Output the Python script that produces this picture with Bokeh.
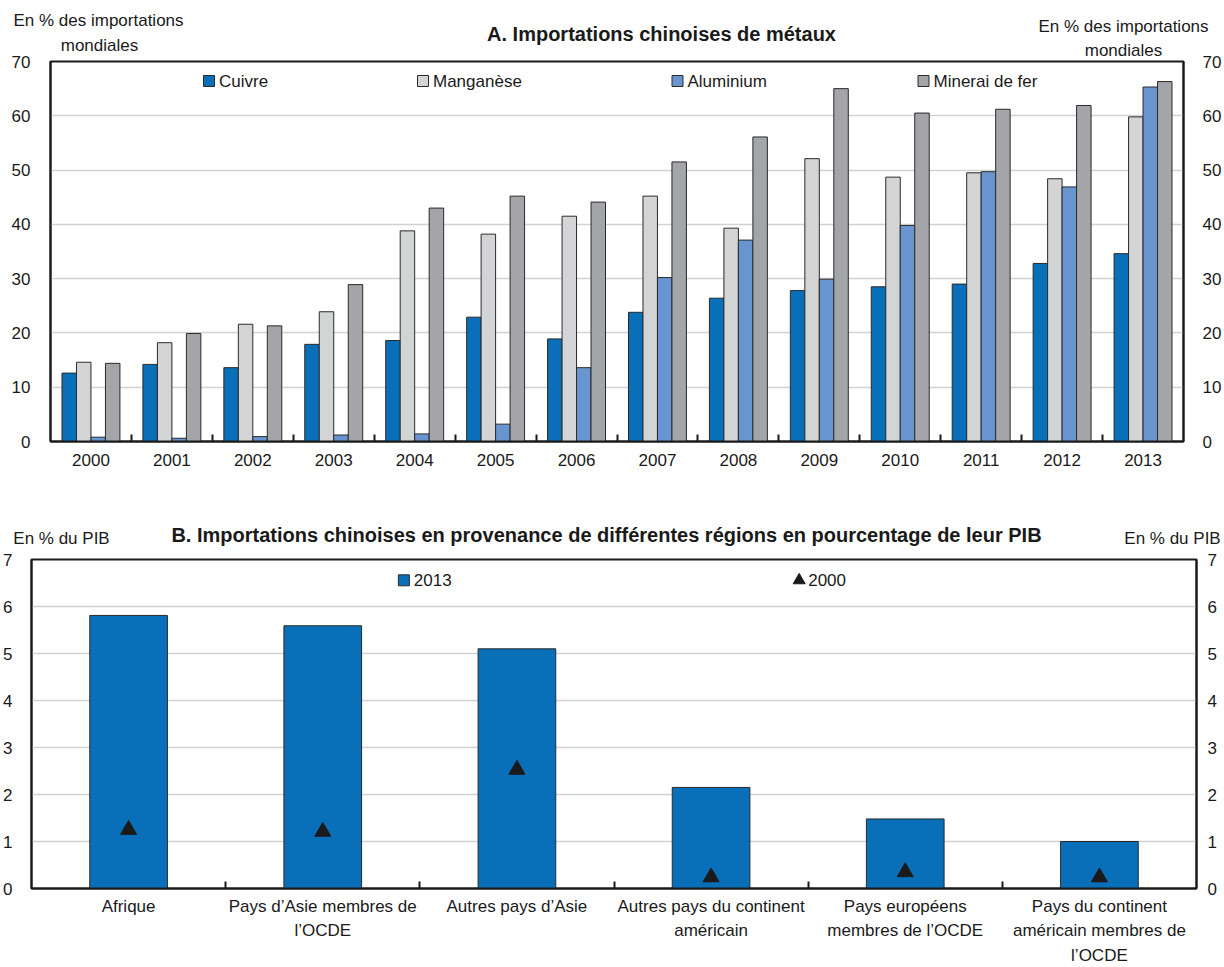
from bokeh.plotting import figure
from bokeh.models import Range1d, LinearAxis, FixedTicker, ColumnDataSource
from bokeh.core.properties import value
from bokeh.embed import file_html
from bokeh.resources import INLINE

# ---------------------------------------------------------------- data
years = [2000, 2001, 2002, 2003, 2004, 2005, 2006,
         2007, 2008, 2009, 2010, 2011, 2012, 2013]
cuivre = [12.6, 14.2, 13.6, 17.9, 18.6, 22.9, 18.9,
          23.8, 26.4, 27.8, 28.5, 29.0, 32.8, 34.6]
manganese = [14.6, 18.2, 21.6, 23.9, 38.8, 38.2, 41.5,
             45.2, 39.3, 52.1, 48.7, 49.5, 48.4, 59.8]
aluminium = [0.8, 0.6, 0.9, 1.2, 1.4, 3.2, 13.6,
             30.2, 37.1, 29.9, 39.8, 49.7, 46.9, 65.3]
minerai_fer = [14.4, 19.9, 21.3, 28.9, 43.0, 45.2, 44.1,
               51.5, 56.1, 65.0, 60.5, 61.2, 61.9, 66.3]
metal_names = ["Cuivre", "Manganèse", "Aluminium", "Minerai de fer"]

regions = [
    "Afrique",
    "Pays d’Asie membres de\nl’OCDE",
    "Autres pays d’Asie",
    "Autres pays du continent\naméricain",
    "Pays européens\nmembres de l’OCDE",
    "Pays du continent\naméricain membres de\nl’OCDE",
]
pib_2013 = [5.81, 5.59, 5.10, 2.15, 1.48, 1.00]
pib_2000 = [1.25, 1.21, 2.53, 0.24, 0.35, 0.24]
series_b = ["2013", "2000"]

title_a = "A. Importations chinoises de métaux"
title_b = ("B. Importations chinoises en provenance de différentes régions "
           "en pourcentage de leur PIB")
unit_a = ["En % des importations", "mondiales"]
unit_b = "En % du PIB"

# ---------------------------------------------------------------- style
FONT = "Liberation Sans"
INK = "#1a1a1a"
GRID = "#d2d2d2"
EDGE = "#2a2a2a"
metal_colors = ["#0a6fb9", "#d3d4d6", "#6895cf", "#a3a5a9"]
BLUE = "#0a6fb9"
FS = "17px"
FS_TITLE = "20px"
PAGE_W = 1224


def style_axis(axis, standoff):
    axis.axis_line_color = INK
    axis.axis_line_width = 2
    axis.major_tick_in = 0
    axis.major_tick_out = 0
    axis.minor_tick_in = 0
    axis.minor_tick_out = 0
    axis.major_label_text_font = FONT
    axis.major_label_text_font_size = FS
    axis.major_label_text_color = INK
    axis.major_label_standoff = standoff


def make_header(height, items):
    """A text band: x and y are pixels from the band's top-left corner."""
    h = figure(width=PAGE_W, height=height,
               x_range=Range1d(0, PAGE_W), y_range=Range1d(height, 0),
               x_axis_type=None, y_axis_type=None,
               output_backend="svg", toolbar_location=None,
               min_border=0, min_border_left=0, min_border_right=0,
               min_border_top=0, min_border_bottom=0)
    h.outline_line_color = None
    h.xgrid.visible = False
    h.ygrid.visible = False
    src = ColumnDataSource(dict(
        x=[it[0] for it in items], y=[it[1] for it in items],
        text=[it[2] for it in items],
        size=[FS_TITLE if it[3] else FS for it in items],
        style=["bold" if it[3] else "normal" for it in items]))
    h.text(x="x", y="y", text="text", source=src,
           text_align="center", text_baseline="middle",
           text_font=value(FONT), text_font_size="size", text_color=INK,
           text_font_style="style")
    return h


def make_frame(fig_top, fig_h, overlap, left, right, top, bottom, nx, ymax):
    """Plot whose frame spans page pixels left..right, top..bottom.

    The plot is pulled up by `overlap` pixels over the band above it, with a
    transparent border so that the band's captions stay visible.
    """
    p = figure(width=PAGE_W, height=fig_h,
               x_range=Range1d(0, nx), y_range=Range1d(0, ymax),
               output_backend="svg", toolbar_location=None,
               min_border_left=left, min_border_right=PAGE_W - right,
               min_border_top=top - fig_top,
               min_border_bottom=fig_top + fig_h - bottom,
               styles={"margin-top": f"-{overlap}px"})
    p.outline_line_color = INK
    p.outline_line_width = 2
    p.xgrid.visible = False
    p.ygrid.grid_line_color = GRID
    p.ygrid.grid_line_width = 1.5
    p.background_fill_color = "white"
    p.border_fill_color = None
    fx = lambda px: (px - left) / (right - left) * nx
    fy = lambda py: (bottom - py) / (bottom - top) * ymax
    return p, fx, fy


# ================================================================ panel A
HA = 60
OVA = 10
AL, AR, AT, AB = 50, 1183, 61, 441
A_MAX = 70
na = len(years)

ha = make_header(HA, [
    (661, 33, title_a, True),
    (98, 20, unit_a[0], False),
    (99, 45, unit_a[1], False),
    (1123, 25.5, unit_a[0], False),
    (1123, 50, unit_a[1], False),
])

pa, fxa, fya = make_frame(HA - OVA, 490 - (HA - OVA), OVA,
                          AL, AR, AT, AB, na, A_MAX)

yt_a = FixedTicker(ticks=list(range(0, A_MAX + 1, 10)))
pa.ygrid.ticker = yt_a
pa.yaxis.ticker = yt_a
style_axis(pa.yaxis[0], 20)
ra = LinearAxis(ticker=yt_a)
style_axis(ra, 19)
pa.add_layout(ra, "right")

xa = pa.xaxis[0]
xa.ticker = FixedTicker(ticks=[i + 0.5 for i in range(na)],
                        minor_ticks=list(range(1, na)))
xa.major_label_overrides = {i + 0.5: str(y) for i, y in enumerate(years)}
style_axis(xa, 12)
xa.minor_tick_in = 7
xa.minor_tick_line_color = INK
xa.minor_tick_line_width = 2

bar_w = 0.179
offsets = [-1.5 * bar_w, -0.5 * bar_w, 0.5 * bar_w, 1.5 * bar_w]
for vals, col, off in zip([cuivre, manganese, aluminium, minerai_fer],
                          metal_colors, offsets):
    src = ColumnDataSource(dict(x=[i + 0.5 + off for i in range(na)], top=vals))
    pa.vbar(x="x", top="top", bottom=0, width=bar_w, source=src,
            fill_color=col, line_color=EDGE, line_width=1)

# legend row
leg_px = [208.5, 422.5, 677, 923]
leg_y = fya(80.5)
pa.scatter(x=[fxa(v) for v in leg_px], y=[leg_y] * 4, marker="square", size=11,
           fill_color=metal_colors, line_color=EDGE, line_width=1)
pa.text(x=[fxa(v) for v in leg_px], y=[leg_y] * 4, text=metal_names,
        x_offset=10, text_baseline="middle", text_align="left",
        text_font=value(FONT), text_font_size=FS, text_color=INK)

# ================================================================ panel B
B_TOP = 490
HB = 61
OVB = 8
BL, BR, BT, BB = 29, 1196, 559, 891
B_MAX = 7
nb = len(regions)

hb = make_header(HB, [
    (606, 534 - B_TOP, title_b, True),
    (61, 537.5 - B_TOP, unit_b, False),
    (1172, 537.5 - B_TOP, unit_b, False),
])

b_top = B_TOP + HB - OVB
pb, fxb, fyb = make_frame(b_top, 967 - b_top, OVB,
                          BL, BR, BT, BB, nb, B_MAX)

yt_b = FixedTicker(ticks=list(range(0, B_MAX + 1)))
pb.ygrid.ticker = yt_b
pb.yaxis.ticker = yt_b
style_axis(pb.yaxis[0], 19)
rb = LinearAxis(ticker=yt_b)
style_axis(rb, 11)
pb.add_layout(rb, "right")

xb = pb.xaxis[0]
xb.ticker = FixedTicker(ticks=[i + 0.5 for i in range(nb)],
                        minor_ticks=list(range(1, nb)))
xb.major_label_overrides = {i + 0.5: r for i, r in enumerate(regions)}
style_axis(xb, 8)
xb.major_label_text_line_height = 1.3
xb.minor_tick_in = 7
xb.minor_tick_line_color = INK
xb.minor_tick_line_width = 2

centers = [i + 0.5 for i in range(nb)]
pb.vbar(x=centers, top=pib_2013, bottom=0, width=0.40,
        fill_color=BLUE, line_color=EDGE, line_width=1)
pb.scatter(x=centers, y=pib_2000, marker="triangle", size=16,
           fill_color=INK, line_color=INK)

# legend row
lb_y = fyb(580)
pb.scatter(x=[fxb(402)], y=[lb_y], marker="square", size=11,
           fill_color=BLUE, line_color=EDGE, line_width=1)
pb.scatter(x=[fxb(798)], y=[lb_y], marker="triangle", size=12,
           fill_color=INK, line_color=INK)
pb.text(x=[fxb(402), fxb(798)], y=[lb_y, lb_y], text=series_b,
        x_offset=[10, 9], text_baseline="middle", text_align="left",
        text_font=value(FONT), text_font_size=FS, text_color=INK)

# each band and panel is its own root, stacked in page order
open("out.html", "w").write(file_html([ha, pa, hb, pb], INLINE))
